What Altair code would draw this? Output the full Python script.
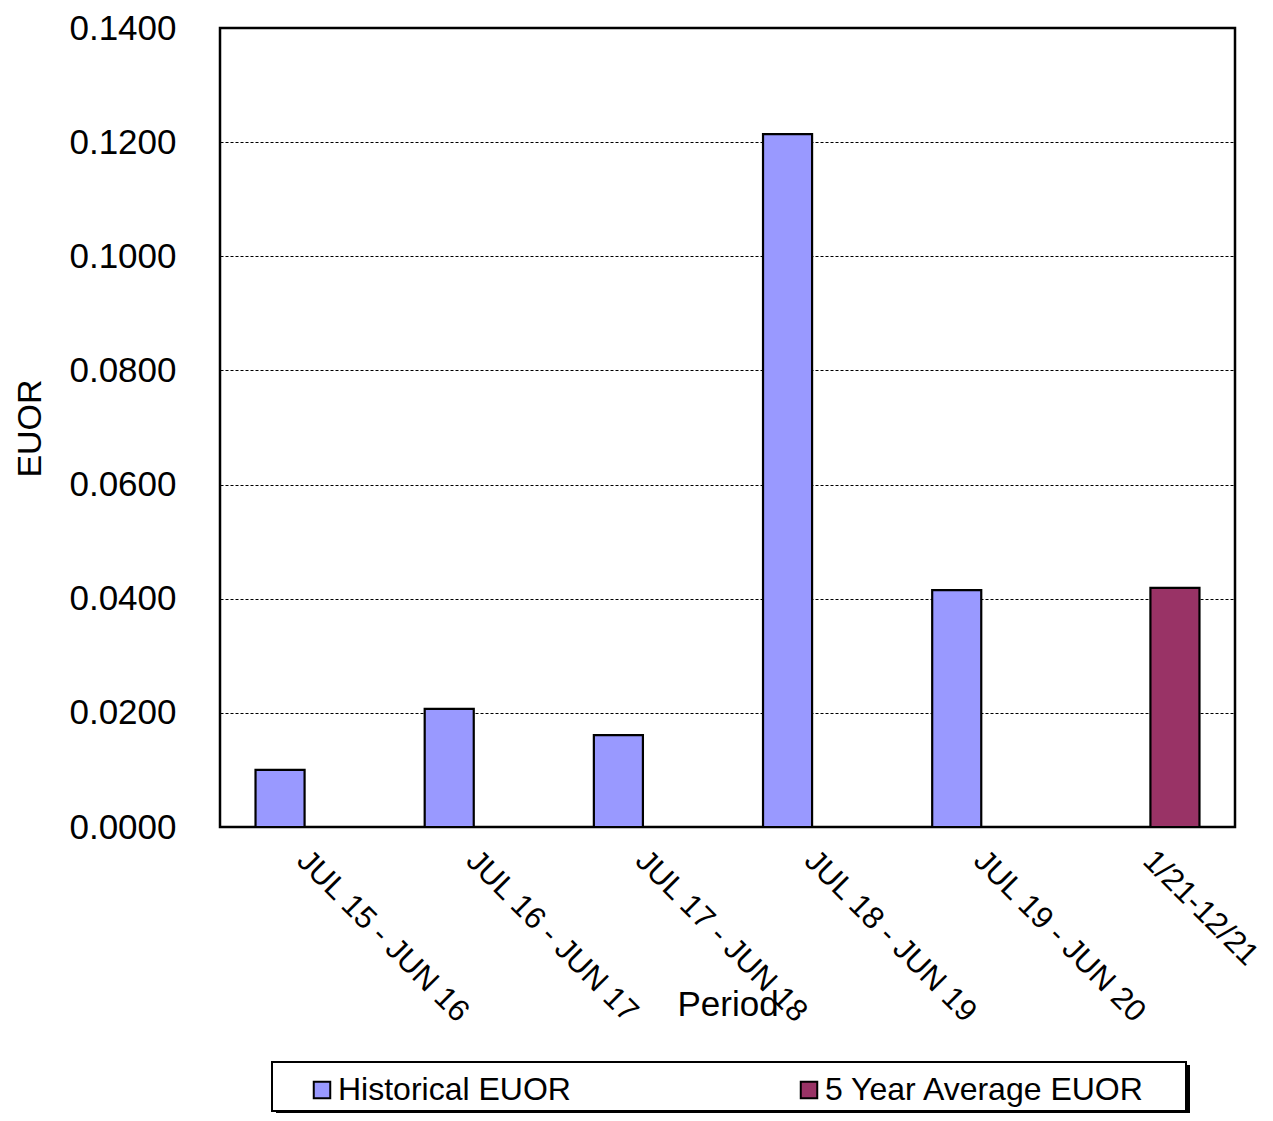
import altair as alt
import pandas as pd

periods = ["JUL 15 - JUN 16", "JUL 16 - JUN 17", "JUL 17 - JUN 18",
           "JUL 18 - JUN 19", "JUL 19 - JUN 20", "1/21-12/21"]
historical = [0.0100, 0.0207, 0.0161, 0.1214, 0.0415, None]
five_year_avg = [None, None, None, None, None, 0.0419]
series_names = ["Historical EUOR", "5 Year Average EUOR"]
series_colors = ["#9999FF", "#993366"]
y_ticks = [0.0, 0.02, 0.04, 0.06, 0.08, 0.10, 0.12, 0.14]

rows = []
for p, h, a in zip(periods, historical, five_year_avg):
    if h is not None:
        rows.append({"Period": p, "Series": series_names[0], "EUOR": h})
    if a is not None:
        rows.append({"Period": p, "Series": series_names[1], "EUOR": a})
df = pd.DataFrame(rows)

FONT = "Liberation Sans"

bars = alt.Chart(df).mark_bar(stroke="black", strokeWidth=2.2).encode(
    x=alt.X("Period:N", sort=periods,
            scale=alt.Scale(domain=periods, paddingInner=0.42, paddingOuter=0.21),
            axis=alt.Axis(title="Period", labelAngle=45, labelAlign="left",
                          labelBaseline="top", labelPadding=18, labelOffset=8,
                          labelLimit=500, labelFontSize=31,
                          labelOverlap=False, labelFlush=False, ticks=False,
                          domain=False, titleY=188, titleBaseline="alphabetic",
                          titleAnchor="middle")),
    xOffset=alt.XOffset("Series:N", sort=series_names,
                        scale=alt.Scale(domain=series_names, paddingInner=0, paddingOuter=0)),
    y=alt.Y("EUOR:Q", scale=alt.Scale(domain=[0, 0.14], nice=False),
            axis=alt.Axis(title="EUOR", values=y_ticks, format=".4f", grid=True,
                          gridDash=[3, 2], gridColor="black", gridWidth=1,
                          gridOpacity=1, ticks=False, domain=False, labelPadding=44,
                          labelFontSize=35, titleFontSize=34,
                          titleX=-180, titleY=400, titleBaseline="alphabetic",
                          titleAlign="center", titleAngle=270)),
    fill=alt.Fill("Series:N", sort=series_names,
                  scale=alt.Scale(domain=series_names, range=series_colors),
                  legend=alt.Legend(title=None, orient="none", legendX=86, legendY=1046,
                                    direction="horizontal", columns=2, columnPadding=222,
                                    symbolType="square", symbolSize=272,
                                    symbolStrokeColor="black", symbolStrokeWidth=2,
                                    symbolOpacity=1, labelOffset=0, labelLimit=500,
                                    labelFontSize=32, labelFont=FONT,
                                    labelColor="black")),
)

box_data = pd.DataFrame({"k": [0]})
shadow = alt.Chart(box_data).mark_rect(fill="black").encode(
    x=alt.value(56), x2=alt.value(970), y=alt.value(1037), y2=alt.value(1085))
box = alt.Chart(box_data).mark_rect(fill="white", stroke="black", strokeWidth=2).encode(
    x=alt.value(52), x2=alt.value(966), y=alt.value(1034), y2=alt.value(1083))

chart = alt.layer(shadow, box, bars).properties(
    width=1015, height=799,
    background="white",
    autosize=alt.AutoSizeParams(type="none"),
    padding={"left": 212, "top": 20, "right": 30, "bottom": 286},
).configure_view(stroke="black", strokeWidth=2.5).configure_axis(
    labelFont=FONT, titleFont=FONT, titleFontSize=35,
    labelColor="black", titleColor="black", titleFontWeight="normal",
)

chart.save("out.html", embed_options={"renderer": "svg", "actions": False})
